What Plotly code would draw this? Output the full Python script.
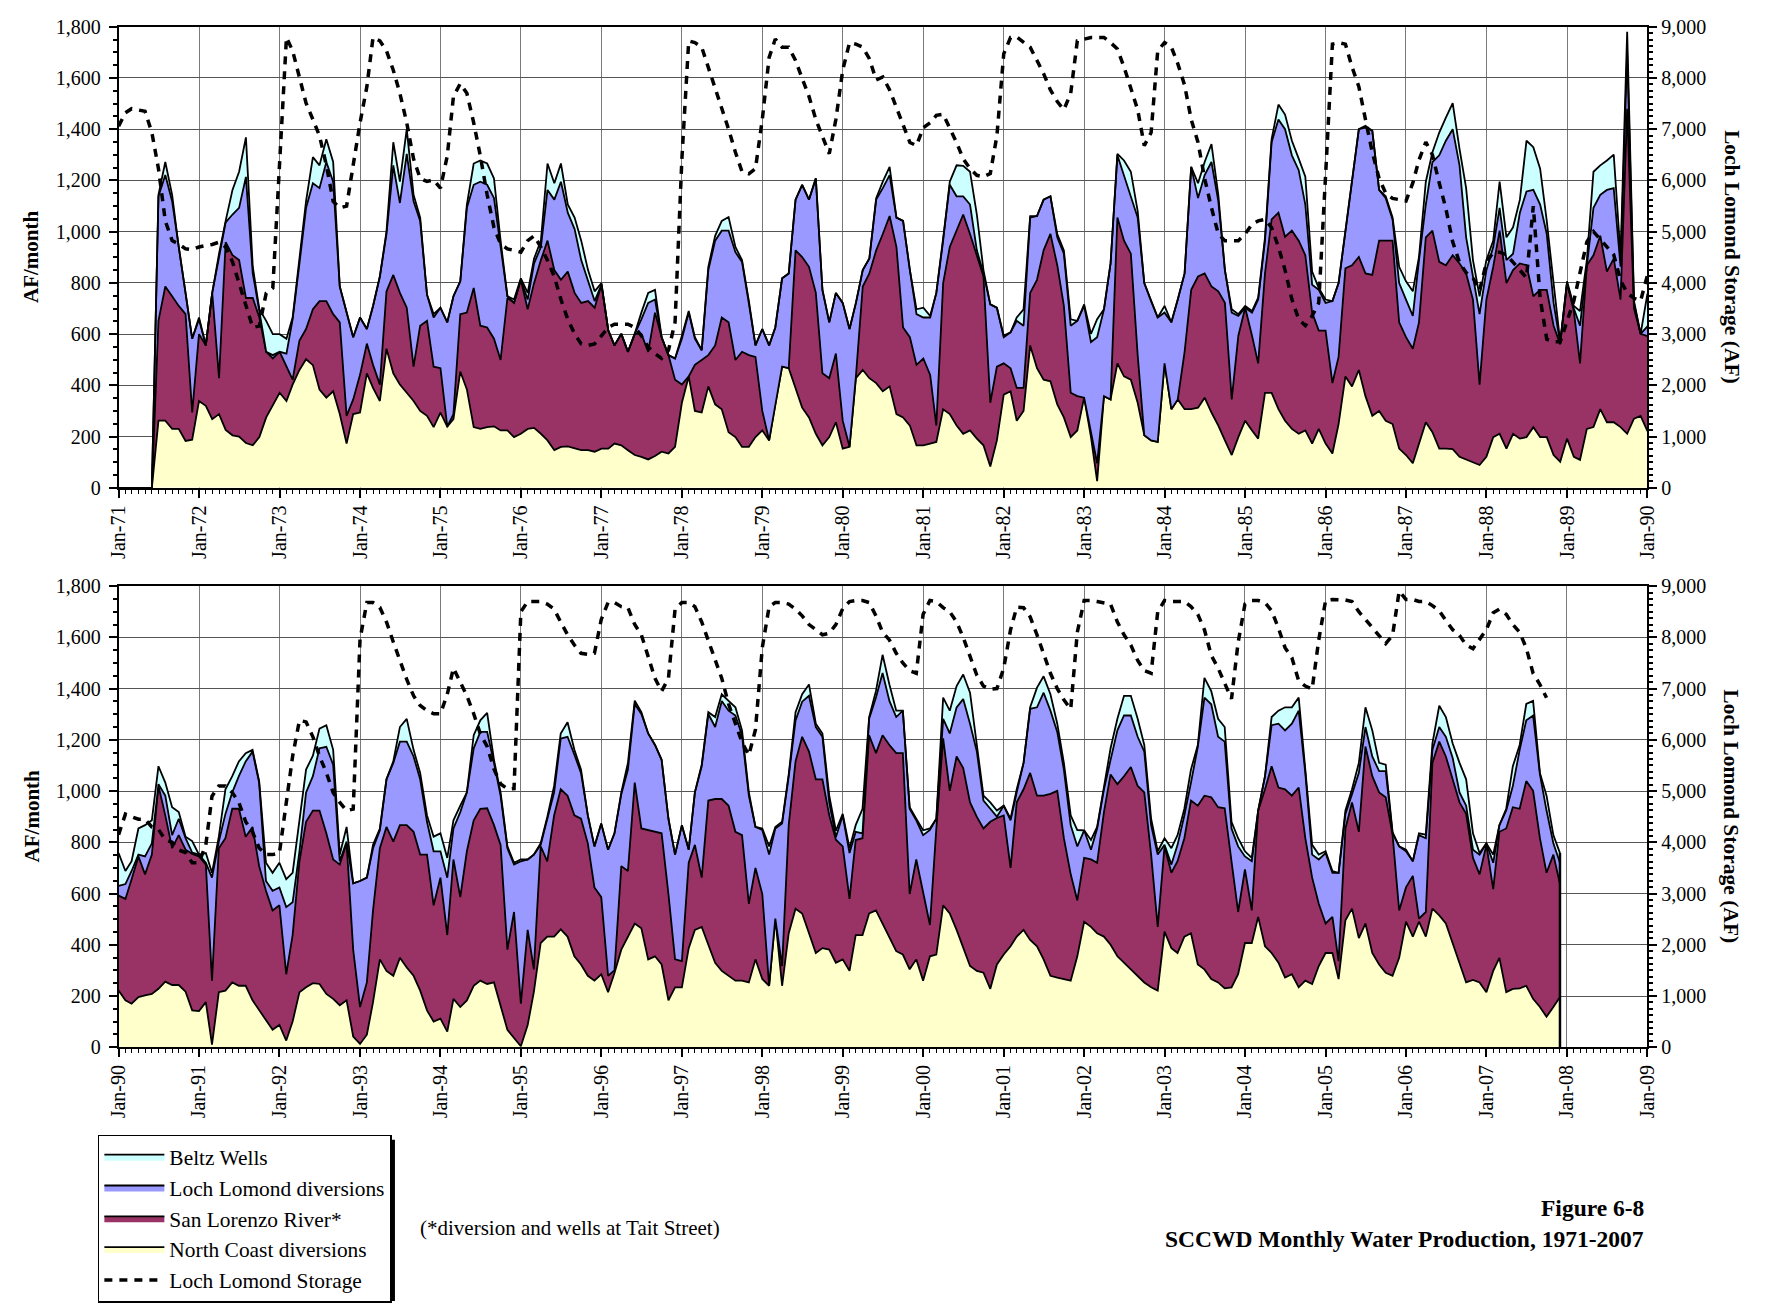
import numpy as np
import pandas as pd
import plotly.graph_objects as go
from plotly.subplots import make_subplots

# ---------------- data (AF/month), monthly Jan-1971 .. Dec-2007 ----------------
# North Coast diversions (bottom layer)
north_coast = [
    0, 0, 0, 0, 0, 0, 262, 262, 230, 230, 183, 188,            # 1971
    339, 320, 268, 288, 226, 205, 200, 175, 166, 198, 275, 320,  # 1972
    371, 339, 403, 460, 502, 479, 384, 352, 377, 288, 173, 288,  # 1973
    294, 447, 390, 339, 543, 447, 403, 371, 339, 300, 281, 237,  # 1974
    294, 239, 268, 454, 384, 237, 230, 237, 240, 224, 224, 198,  # 1975
    211, 230, 234, 211, 185, 147, 160, 162, 153, 147, 147, 141,  # 1976
    153, 153, 173, 166, 147, 128, 121, 111, 124, 141, 134, 160,  # 1977
    332, 435, 300, 294, 396, 326, 307, 217, 198, 160, 160, 198,  # 1978
    224, 185, 326, 473, 467, 390, 313, 275, 211, 166, 198, 256,  # 1979
    153, 160, 428, 460, 428, 409, 377, 396, 288, 275, 243, 166,  # 1980
    166, 173, 179, 307, 288, 243, 211, 224, 192, 166, 83, 185,   # 1981
    364, 377, 262, 300, 556, 467, 422, 416, 326, 275, 198, 224,  # 1982
    352, 198, 26, 358, 345, 486, 435, 422, 332, 205, 185, 179,   # 1983
    486, 307, 345, 307, 307, 313, 352, 294, 243, 185, 128, 198,  # 1984
    262, 224, 192, 371, 371, 307, 262, 230, 211, 224, 173, 230,  # 1985
    173, 134, 249, 435, 396, 460, 358, 281, 300, 262, 249, 153,  # 1986
    128, 96, 173, 256, 217, 153, 153, 151, 121, 111, 102, 89,    # 1987
    121, 198, 211, 153, 211, 192, 198, 237, 198, 198, 128, 102,  # 1988
    192, 121, 109, 230, 237, 307, 256, 256, 237, 211, 270, 281,  # 1989
    221, 183, 170, 196, 202, 208, 228, 256, 243, 243, 217, 144,  # 1990
    141, 176, 10, 215, 221, 253, 240, 240, 183, 144, 106, 68,    # 1991
    87, 26, 100, 215, 234, 250, 247, 208, 189, 164, 183, 42,     # 1992
    13, 49, 176, 343, 298, 279, 349, 311, 279, 221, 144, 100,    # 1993
    112, 61, 189, 157, 183, 240, 260, 247, 253, 157, 68, 36,     # 1994
    4, 87, 215, 407, 432, 432, 460, 432, 355, 323, 279, 260,     # 1995
    285, 215, 290, 381, 432, 483, 464, 343, 355, 323, 183, 234,  # 1996
    234, 387, 458, 470, 400, 330, 298, 279, 260, 260, 253, 343,  # 1997
    266, 240, 502, 240, 445, 541, 522, 445, 368, 387, 381, 330,  # 1998
    343, 298, 438, 438, 522, 534, 483, 432, 375, 362, 304, 343,  # 1999
    260, 355, 362, 554, 522, 458, 387, 317, 298, 291, 228, 323,  # 2000
    362, 394, 432, 458, 419, 394, 343, 279, 272, 266, 260, 355,  # 2001
    490, 470, 445, 432, 400, 355, 330, 304, 276, 253, 234, 221,  # 2002
    451, 387, 368, 432, 445, 323, 304, 266, 253, 230, 234, 285,  # 2003
    407, 407, 509, 394, 368, 330, 272, 285, 234, 260, 247, 317,  # 2004
    368, 368, 266, 496, 541, 426, 483, 368, 323, 291, 279, 349,  # 2005
    490, 432, 490, 432, 541, 515, 483, 407, 330, 253, 263, 253,  # 2006
    215, 298, 349, 215, 228, 230, 240, 189, 157, 119, 157, 196,  # 2007
]

# top of the San Lorenzo River* band (North Coast + San Lorenzo)
slr_top = [
    0, 0, 0, 0, 0, 0, 652, 786, 748, 710, 678, 294,
    600, 556, 761, 428, 959, 908, 889, 741, 741, 665, 531, 505,
    531, 473, 422, 575, 620, 697, 729, 729, 678, 646, 281, 345,
    441, 563, 480, 403, 767, 831, 761, 703, 473, 633, 652, 473,
    467, 239, 288, 678, 684, 780, 633, 626, 582, 499, 741, 722,
    812, 697, 799, 889, 965, 850, 812, 844, 761, 722, 729, 703,
    793, 614, 556, 601, 531, 601, 601, 531, 684, 588, 518, 422,
    403, 435, 480, 499, 518, 556, 665, 646, 499, 531, 518, 511,
    300, 185, 326, 473, 467, 927, 901, 863, 761, 447, 428, 524,
    262, 160, 435, 786, 837, 927, 991, 1061, 940, 626, 588, 480,
    505, 441, 243, 799, 940, 1004, 1067, 991, 908, 825, 332, 473,
    486, 467, 390, 390, 761, 812, 927, 991, 869, 710, 371, 358,
    352, 210, 96, 358, 345, 1055, 965, 914, 518, 205, 185, 179,
    486, 307, 345, 531, 773, 825, 837, 786, 767, 722, 345, 594,
    703, 594, 486, 837, 1048, 1074, 980, 1004, 965, 908, 684, 614,
    614, 409, 511, 857, 869, 901, 837, 831, 965, 965, 965, 646,
    588, 543, 646, 978, 1004, 882, 869, 908, 876, 837, 735, 403,
    735, 863, 1004, 799, 850, 876, 869, 748, 773, 773, 633, 560,
    799, 690, 486, 869, 908, 984, 844, 895, 735, 1480, 700, 601,
    592, 579, 656, 745, 675, 752, 1020, 905, 777, 828, 771, 755,
    745, 713, 260, 777, 816, 931, 931, 822, 860, 707, 611, 534,
    554, 285, 438, 726, 880, 924, 924, 835, 733, 713, 796, 380,
    157, 253, 534, 777, 860, 803, 867, 867, 841, 752, 752, 554,
    662, 438, 733, 586, 765, 886, 931, 933, 867, 790, 381, 528,
    170, 458, 304, 784, 726, 905, 1007, 982, 905, 892, 796, 624,
    586, 279, 300, 707, 688, 1033, 854, 848, 841, 835, 598, 343,
    336, 720, 790, 662, 963, 969, 969, 943, 841, 828, 560, 700,
    598, 240, 502, 317, 867, 1116, 1212, 1154, 1046, 1046, 905, 810,
    784, 579, 809, 816, 1218, 1148, 1218, 1180, 1148, 1148, 598, 733,
    605, 477, 854, 1206, 1001, 1135, 1090, 956, 899, 854, 880, 895,
    905, 700, 956, 1007, 1071, 982, 982, 989, 1001, 816, 675, 573,
    739, 733, 720, 918, 1065, 1027, 1058, 1094, 1020, 995, 752, 470,
    784, 681, 726, 816, 963, 943, 982, 976, 937, 933, 726, 528,
    694, 534, 924, 1007, 1097, 1014, 1007, 982, 1014, 816, 662, 560,
    483, 509, 336, 854, 956, 841, 1174, 1058, 995, 976, 830, 534,
    624, 669, 502, 528, 1110, 1193, 1135, 1046, 956, 911, 739, 675,
    790, 617, 841, 854, 937, 931, 1039, 1001, 816, 681, 752, 637,
]

# top of the Loch Lomond diversions band
ll_top = [
    0, 0, 0, 0, 0, 0, 1138, 1221, 1119, 940, 761, 582,
    658, 556, 761, 901, 1036, 1067, 1093, 1214, 837, 690, 531, 518,
    531, 524, 658, 876, 1093, 1189, 1170, 1272, 1195, 786, 684, 588,
    665, 620, 710, 825, 991, 1259, 1112, 1304, 1119, 1042, 754, 665,
    703, 646, 748, 806, 1093, 1183, 1195, 1183, 1131, 940, 748, 722,
    812, 735, 876, 940, 1163, 1125, 1195, 1074, 1010, 889, 812, 729,
    793, 614, 556, 601, 531, 601, 658, 722, 735, 588, 518, 505,
    582, 684, 582, 537, 850, 965, 1004, 1004, 920, 882, 720, 556,
    620, 556, 626, 818, 837, 1125, 1183, 1125, 1208, 773, 646, 761,
    722, 620, 722, 850, 895, 1125, 1170, 1221, 1055, 1042, 850, 678,
    665, 665, 761, 965, 1183, 1138, 1138, 1106, 927, 837, 716, 703,
    588, 607, 652, 633, 1055, 1061, 1125, 1138, 978, 914, 633, 652,
    710, 569, 588, 697, 876, 1298, 1221, 1138, 1055, 799, 729, 665,
    684, 646, 735, 837, 1253, 1131, 1221, 1272, 1119, 850, 684, 671,
    703, 684, 735, 965, 1349, 1438, 1400, 1298, 1240, 1106, 793, 773,
    722, 729, 799, 1004, 1195, 1400, 1406, 1394, 1163, 1131, 1048, 799,
    735, 671, 889, 1106, 1272, 1298, 1355, 1400, 1259, 978, 825, 678,
    850, 940, 1093, 889, 914, 1074, 1157, 1163, 1106, 991, 722, 565,
    799, 700, 633, 869, 1093, 1144, 1163, 1170, 863, 1700, 720, 601,
    630, 637, 688, 752, 745, 796, 1027, 982, 828, 892, 816, 760,
    752, 720, 662, 803, 911, 995, 1058, 1116, 1154, 1033, 649, 611,
    624, 547, 566, 765, 995, 1058, 1167, 1173, 1103, 726, 803, 640,
    649, 662, 777, 847, 1046, 1110, 1193, 1193, 1135, 1046, 880, 765,
    765, 662, 854, 918, 995, 1167, 1231, 1231, 1110, 982, 777, 713,
    726, 733, 752, 790, 892, 995, 1205, 1212, 1142, 1071, 905, 784,
    873, 771, 835, 988, 1084, 1340, 1301, 1225, 1180, 1122, 892, 752,
    867, 771, 995, 1097, 1301, 1250, 1352, 1314, 1295, 1218, 982, 860,
    848, 752, 854, 873, 1058, 1276, 1349, 1372, 1250, 1212, 956, 820,
    905, 758, 841, 835, 1282, 1365, 1461, 1352, 1289, 1314, 931, 886,
    828, 848, 892, 1282, 1225, 1327, 1359, 1263, 1154, 963, 931, 900,
    943, 886, 995, 1110, 1321, 1327, 1384, 1314, 1231, 1084, 867, 784,
    847, 771, 854, 1007, 1122, 1237, 1295, 1295, 1212, 1154, 867, 752,
    790, 713, 790, 905, 1033, 1173, 1365, 1339, 1212, 1193, 854, 784,
    745, 726, 924, 1058, 1257, 1263, 1237, 1263, 1314, 1071, 752, 733,
    758, 681, 681, 911, 988, 1071, 1250, 1135, 1078, 1078, 835, 784,
    765, 726, 828, 816, 1161, 1250, 1212, 1129, 995, 943, 771, 752,
    796, 720, 867, 924, 1020, 1161, 1276, 1295, 1065, 924, 796, 720,
]

# total production (top of the Beltz Wells band)
total_top = [
    0, 0, 0, 0, 0, 0, 1144, 1272, 1144, 940, 761, 582,
    665, 556, 761, 914, 1042, 1163, 1234, 1368, 863, 697, 652, 600,
    600, 582, 665, 889, 1119, 1291, 1259, 1361, 1272, 786, 684, 588,
    665, 620, 710, 825, 1000, 1349, 1195, 1400, 1144, 1055, 754, 678,
    703, 646, 748, 806, 1106, 1266, 1278, 1266, 1208, 965, 748, 735,
    818, 761, 895, 965, 1266, 1189, 1266, 1106, 1055, 965, 850, 767,
    799, 614, 556, 601, 531, 601, 684, 761, 773, 588, 518, 505,
    594, 690, 588, 537, 863, 984, 1042, 1057, 940, 889, 730, 556,
    620, 556, 626, 818, 837, 1125, 1183, 1125, 1208, 773, 646, 761,
    722, 620, 722, 850, 895, 1131, 1195, 1253, 1055, 1042, 850, 697,
    703, 671, 761, 965, 1195, 1259, 1257, 1234, 1067, 850, 716, 678,
    594, 607, 665, 697, 1061, 1061, 1125, 1138, 991, 927, 658, 652,
    716, 601, 658, 697, 876, 1304, 1278, 1234, 1080, 799, 729, 665,
    710, 646, 735, 837, 1253, 1189, 1272, 1342, 1144, 850, 697, 678,
    710, 690, 742, 978, 1361, 1496, 1457, 1355, 1285, 1215, 844, 780,
    735, 729, 799, 1004, 1195, 1400, 1413, 1394, 1163, 1138, 1055, 863,
    806, 767, 901, 1195, 1310, 1387, 1445, 1502, 1323, 1170, 889, 748,
    889, 965, 1195, 978, 1017, 1125, 1355, 1330, 1246, 1042, 799, 570,
    806, 710, 690, 889, 1234, 1259, 1278, 1301, 908, 1780, 730, 601,
    758, 688, 726, 854, 867, 886, 1097, 1033, 937, 918, 822, 805,
    752, 758, 681, 822, 1007, 1058, 1116, 1148, 1161, 1039, 720, 681,
    720, 656, 681, 892, 1084, 1138, 1244, 1257, 1161, 752, 860, 640,
    649, 662, 790, 854, 1039, 1116, 1250, 1282, 1161, 1071, 905, 822,
    835, 739, 886, 943, 995, 1218, 1276, 1305, 1122, 995, 784, 720,
    733, 733, 752, 796, 899, 1020, 1225, 1269, 1161, 1084, 905, 784,
    873, 771, 835, 995, 1110, 1353, 1308, 1225, 1180, 1122, 892, 752,
    867, 771, 995, 1103, 1308, 1289, 1378, 1352, 1327, 1237, 995, 860,
    854, 784, 860, 880, 1065, 1308, 1378, 1416, 1263, 1225, 982, 845,
    911, 777, 867, 931, 1289, 1391, 1532, 1416, 1314, 1314, 937, 892,
    847, 854, 892, 1365, 1314, 1410, 1455, 1384, 1173, 982, 956, 924,
    943, 892, 1007, 1110, 1327, 1404, 1448, 1378, 1263, 1110, 905, 848,
    847, 809, 860, 1020, 1167, 1282, 1372, 1372, 1282, 1180, 892, 765,
    816, 777, 828, 931, 1084, 1180, 1442, 1390, 1282, 1250, 880, 816,
    765, 739, 924, 1058, 1289, 1314, 1327, 1327, 1365, 1084, 790, 752,
    765, 688, 681, 924, 1007, 1110, 1327, 1237, 1110, 1103, 840, 784,
    771, 726, 835, 830, 1186, 1333, 1289, 1186, 1110, 1046, 835, 758,
    796, 752, 867, 931, 1097, 1180, 1340, 1352, 1071, 982, 828, 758,
]

# Loch Lomond storage (AF), right axis
storage = [
    7060, 7320, 7400, 7380, 7350, 6935, 6230, 5210, 4825, 4760, 4665, 4650,
    4700, 4730, 4750, 4795, 4700, 4410, 3995, 3550, 3130, 3160, 3800, 3900,
    6420, 8790, 8530, 8020, 7510, 7190, 6870, 6300, 5590, 5465, 5500, 6300,
    7125, 7830, 8790, 8725, 8530, 8150, 7700, 7125, 6420, 6040, 5980, 6010,
    5850, 6480, 7640, 7890, 7700, 7125, 6480, 5720, 5080, 4760, 4665, 4635,
    4600, 4825, 4920, 4700, 4440, 4120, 3675, 3290, 3005, 2810, 2780, 2810,
    2970, 3130, 3195, 3195, 3195, 3130, 2970, 2750, 2620, 2525, 2685, 3230,
    6420, 8725, 8690, 8600, 8215, 7830, 7445, 7000, 6550, 6170, 6130, 6230,
    7190, 8400, 8760, 8600, 8600, 8340, 7990, 7640, 7190, 6840, 6520, 7190,
    8150, 8690, 8660, 8600, 8375, 7960, 8020, 7765, 7420, 7060, 6740, 6680,
    7030, 7125, 7270, 7290, 7030, 6740, 6420, 6230, 6100, 6070, 6135, 6870,
    8470, 8790, 8800, 8690, 8600, 8340, 8085, 7765, 7540, 7380, 7700, 8725,
    8760, 8790, 8790, 8790, 8690, 8565, 8215, 7800, 7380, 6680, 6935, 8530,
    8690, 8600, 8280, 7860, 7190, 6740, 6040, 5465, 4955, 4825, 4825, 4825,
    4955, 5145, 5210, 5240, 5080, 4700, 4250, 3680, 3290, 3165, 3355, 3610,
    6100, 8660, 8690, 8660, 8215, 7830, 7190, 6550, 6040, 5750, 5650, 5620,
    5600, 5950, 6400, 6750, 6500, 5950, 5450, 4800, 4400, 4200, 4100, 3850,
    4400, 4600, 4600, 4550, 4400, 4250, 4100, 5500, 3700, 2900, 2850, 2850,
    3250, 3650, 4200, 4800, 5000, 4850, 4700, 4550, 4050, 3800, 3700, 3650,
    4150, 4550, 4500, 4450, 4450, 4300, 4250, 4050, 4000, 3850, 3800, 3600,
    3600, 3950, 4900, 5100, 5100, 4970, 4780, 4400, 4200, 3890, 3760, 3760,
    3790, 4780, 5680, 6380, 6350, 6060, 5680, 5360, 4970, 4780, 4620, 4650,
    7965, 8680, 8680, 8585, 8300, 7910, 7530, 7180, 6860, 6670, 6570, 6510,
    6510, 6890, 7400, 7110, 6860, 6510, 6120, 5870, 5430, 5140, 5040, 5050,
    8500, 8700, 8700, 8700, 8650, 8550, 8300, 8050, 7850, 7690, 7670, 7690,
    8350, 8680, 8680, 8600, 8580, 8250, 8050, 7600, 7200, 6950, 7200, 8550,
    8680, 8680, 8600, 8300, 7950, 7550, 7200, 6700, 6300, 5950, 5700, 6200,
    7800, 8600, 8680, 8680, 8650, 8550, 8420, 8250, 8150, 8050, 8080, 8250,
    8560, 8700, 8720, 8720, 8680, 8420, 8100, 7950, 7690, 7500, 7350, 7300,
    8450, 8720, 8700, 8580, 8500, 8300, 8000, 7650, 7260, 7050, 6990, 7000,
    7400, 8150, 8590, 8580, 8400, 8050, 7700, 7300, 7000, 6780, 6600, 8100,
    8720, 8720, 8700, 8680, 8650, 8300, 8050, 7850, 7550, 7350, 7300, 8500,
    8720, 8700, 8700, 8700, 8600, 8450, 8150, 7650, 7400, 7100, 6800, 7900,
    8650, 8720, 8720, 8680, 8520, 8180, 7800, 7600, 7150, 7050, 6990, 7950,
    8720, 8740, 8740, 8730, 8700, 8500, 8350, 8200, 8050, 7880, 8040, 8900,
    8740, 8740, 8700, 8700, 8620, 8520, 8330, 8150, 8040, 7850, 7780, 7950,
    8150, 8480, 8550, 8450, 8250, 8100, 7790, 7300, 7080, 6820, None, None,
]

series_names = ["North Coast diversions", "San Lorenzo River*",
                "Loch Lomond diversions", "Beltz Wells"]
series_colors = ["#FFFFCC", "#993366", "#9999FF", "#CCFFFF"]
legend_ranks = [4, 3, 2, 1]
storage_name = "Loch Lomond Storage"
panel_ranges = [("1971-01-01", "1990-01-01"), ("1990-01-01", "2009-01-01")]
left_title = "AF/month"
right_title = "Loch Lomond Storage (AF)"
note_text = "(*diversion and wells at Tait Street)"
fig_title_1 = "Figure 6-8"
fig_title_2 = "SCCWD Monthly Water Production, 1971-2007"

# ---------------- derived components ----------------
months = pd.date_range("1971-01-01", periods=len(north_coast), freq="MS")
nc = np.array(north_coast, dtype=float)
lvl_slr = np.maximum(np.array(slr_top, dtype=float), nc)
lvl_ll = np.maximum(np.array(ll_top, dtype=float), lvl_slr)
lvl_tot = np.maximum(np.array(total_top, dtype=float), lvl_ll)
components = [nc, lvl_slr - nc, lvl_ll - lvl_slr, lvl_tot - lvl_ll]
stor = np.array([np.nan if v is None else v for v in storage], dtype=float)

W, H = 1767, 1306
FONT = "Liberation Serif"

fig = make_subplots(rows=2, cols=1,
                    specs=[[{"secondary_y": True}], [{"secondary_y": True}]])

split = list(months).index(pd.Timestamp("1990-01-01"))
panels = [slice(0, split + 1), slice(split, len(months))]

for row, sl in enumerate(panels, start=1):
    x = months[sl]
    for name, comp, col, rank in zip(series_names, components, series_colors, legend_ranks):
        fig.add_trace(go.Scatter(
            x=x, y=comp[sl], name=name, mode="lines",
            stackgroup=f"s{row}", fillcolor=col,
            line=dict(color="black", width=1.8),
            legendgroup=name, legendrank=rank, showlegend=(row == 1),
            hoverinfo="skip"), row=row, col=1, secondary_y=False)
    fig.add_trace(go.Scatter(
        x=x, y=stor[sl], name=storage_name, mode="lines",
        line=dict(color="black", width=3.5, dash="8px,7px"),
        legendgroup=storage_name, legendrank=5, showlegend=(row == 1),
        hoverinfo="skip"), row=row, col=1, secondary_y=True)

# closing edge of the last month of data in the lower panel
fig.add_trace(go.Scatter(x=[months[-1], months[-1]], y=[0, lvl_tot[-1]],
                         mode="lines", line=dict(color="black", width=2.5),
                         showlegend=False, hoverinfo="skip"),
              row=2, col=1, secondary_y=False)

x_dom = [108 / W, 1657 / W]
y_doms = [[1 - 485 / H, 1 - 16 / H], [1 - 1054 / H, 1 - 585 / H]]
tickfont = dict(family=FONT, size=20, color="black")

xnames = ["xaxis", "xaxis2"]
ynames = [("yaxis", "yaxis2"), ("yaxis3", "yaxis4")]
lay = {}
for i in range(2):
    r0, r1 = panel_ranges[i]
    lay[xnames[i]] = dict(
        type="date", range=[r0, r1], domain=x_dom,
        tick0=r0, dtick="M12", tickformat="%b-%y", tickangle=-90,
        ticks="outside", ticklen=8, tickwidth=1.5, tickcolor="black",
        showgrid=True, gridcolor="#7a7a7a", gridwidth=1,
        showline=True, linecolor="black", linewidth=1.5, mirror=True,
        tickfont=tickfont,
        minor=dict(dtick="M1", ticks="outside", ticklen=4, tickcolor="black",
                   tickwidth=1, showgrid=False))
    yl, yr = ynames[i]
    lay[yl] = dict(
        range=[0, 1800], dtick=200, tickformat=",", domain=y_doms[i],
        ticks="outside", ticklen=8, tickwidth=1.5, tickcolor="black",
        showgrid=True, gridcolor="#555555", gridwidth=1, zeroline=False,
        showline=True, linecolor="black", linewidth=1.5,
        tickfont=tickfont, ticklabelstandoff=4,
        minor=dict(dtick=50, ticks="outside", ticklen=4, tickcolor="black",
                   showgrid=False))
    lay[yr] = dict(
        range=[0, 9000], dtick=1000, tickformat=",",
        ticks="outside", ticklen=8, tickwidth=1.5, tickcolor="black",
        showgrid=False, zeroline=False,
        showline=True, linecolor="black", linewidth=1.5,
        tickfont=tickfont,
        minor=dict(dtick=125, ticks="outside", ticklen=4, tickcolor="black",
                   showgrid=False))
fig.update_layout(**lay)

annotations = []
for d in y_doms:
    yc = (d[0] + d[1]) / 2
    annotations.append(dict(text=f"<b>{left_title}</b>", x=20 / W, y=yc,
                            xref="paper", yref="paper", showarrow=False,
                            xanchor="center", yanchor="middle",
                            textangle=-90, font=dict(family=FONT, size=21)))
    annotations.append(dict(text=f"<b>{right_title}</b>", x=1742 / W, y=yc,
                            xref="paper", yref="paper", showarrow=False,
                            xanchor="center", yanchor="middle",
                            textangle=90, font=dict(family=FONT, size=21.5)))
annotations.append(dict(text=note_text, x=411 / W, y=1 - 1238 / H, xref="paper",
                        yref="paper", xanchor="left", yanchor="middle",
                        showarrow=False, font=dict(family=FONT, size=21)))
annotations.append(dict(text=f"<b>{fig_title_1}</b>", x=1656 / W, y=1 - 1218 / H,
                        xref="paper", yref="paper", xanchor="right",
                        yanchor="middle", showarrow=False,
                        font=dict(family=FONT, size=23.5)))
annotations.append(dict(text=f"<b>{fig_title_2}</b>", x=1656 / W, y=1 - 1249 / H,
                        xref="paper", yref="paper", xanchor="right",
                        yanchor="middle", showarrow=False,
                        font=dict(family=FONT, size=23.5)))

fig.update_layout(
    autosize=True, margin=dict(l=0, r=0, t=0, b=0, pad=0),
    paper_bgcolor="white", plot_bgcolor="white",
    font=dict(family=FONT, size=20, color="black"),
    annotations=annotations,
    legend=dict(x=87 / W, y=1 - 1143 / H, xanchor="left", yanchor="top",
                bgcolor="white", bordercolor="black", borderwidth=1.5,
                font=dict(family=FONT, size=21.4, color="black"),
                tracegroupgap=3, itemwidth=60, traceorder="normal"),
    shapes=[dict(type="rect", xref="paper", yref="paper",
                 x0=92 / W, x1=388 / W, y0=1 - 1312 / H, y1=1 - 1148 / H,
                 fillcolor="black", line=dict(width=0), layer="below")],
    hovermode=False,
)

fig.write_html("out.html",
               config={"displayModeBar": False, "responsive": True},
               default_width="100vw", default_height="100vh",
               post_script="document.documentElement.style.margin='0';"
                           "document.body.style.margin='0';"
                           "document.body.style.overflow='hidden';")
